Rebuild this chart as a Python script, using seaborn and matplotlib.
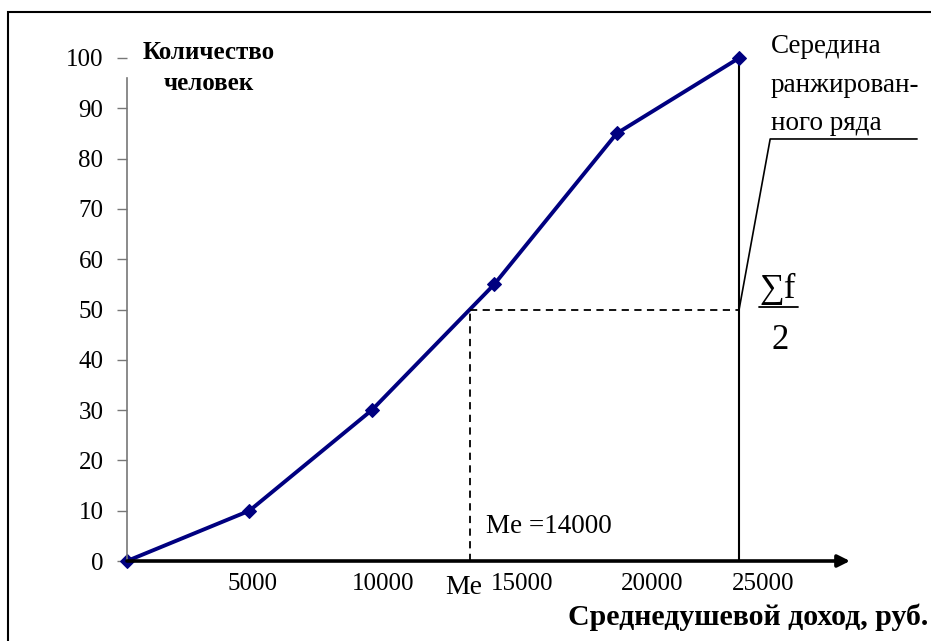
import pandas as pd
import seaborn as sns
from matplotlib import pyplot as plt
from matplotlib.patches import Rectangle
from matplotlib.transforms import ScaledTranslation

# cumulative frequency of income (cumulate)
income = [0, 5000, 10000, 15000, 20000, 25000]
people = [0, 10, 30, 55, 85, 100]
median = 14000
half_sum = 50
y_ticks = [0, 10, 20, 30, 40, 50, 60, 70, 80, 90, 100]
x_ticks = [5000, 10000, 15000, 20000, 25000]

df = pd.DataFrame({'income': income, 'people': people})

sns.set_style('white', {'text.color': 'black', 'xtick.color': 'black',
                        'ytick.color': 'black'})
plt.rcParams['font.family'] = ['Liberation Serif', 'DejaVu Serif']

fig = plt.figure(figsize=(9.31, 6.41), dpi=100)
W, H = 931, 641
ax = fig.add_axes([127 / W, 1 - 561 / H, (850 - 127) / W, (561 - 58) / H])

sns.lineplot(data=df, x='income', y='people', ax=ax, color='#000080', lw=2.8,
             marker='D', markersize=7, markeredgecolor='#000080', clip_on=False)

ax.set_xlim(0, 29530)
ax.set_ylim(0, 100)
ax.set_xlabel('')
ax.set_ylabel('')

# spines: thin grey y axis, thick x axis with arrow
for s in ['top', 'right', 'bottom']:
    ax.spines[s].set_visible(False)
ax.spines['left'].set_color('#777777')
ax.spines['left'].set_linewidth(1.2)
ax.spines['left'].set_bounds(0, 96)
ax.annotate('', xy=(1.0, 0), xytext=(0, 0), xycoords='axes fraction',
            arrowprops=dict(arrowstyle='-|>', color='black', lw=2.6,
                            mutation_scale=18, shrinkA=0, shrinkB=0))

ax.set_yticks(y_ticks)
ax.set_yticklabels([str(v) for v in y_ticks], fontsize=18)
ax.set_xticks(x_ticks)
ax.set_xticklabels([str(v) for v in x_ticks], fontsize=18)
ax.tick_params(axis='y', length=7, width=1, color='#777777', labelcolor='black',
               pad=10, left=True)
ax.tick_params(axis='x', length=0, pad=9)

# the labels under the axis were set by hand in the original, shifted right a bit
shifts = [3, 11, 28, 35, 24]
for lab, dx in zip(ax.get_xticklabels(), shifts):
    lab.set_transform(lab.get_transform() + ScaledTranslation(dx / 100, 0, fig.dpi_scale_trans))

# median construction lines
ax.plot([median, median], [0, half_sum], color='black', ls=(0, (4, 3)), lw=1.3)
ax.plot([median, income[-1]], [half_sum, half_sum], color='black', ls=(0, (4, 3)), lw=1.3)
ax.plot([income[-1], income[-1]], [0, people[-1]], color='black', lw=1.5, zorder=1)
ax.plot([income[-1], 26270, 32270], [half_sum, 83.9, 83.9], color='black', lw=1.2,
        clip_on=False)

ax.text(14650, 6.8, 'Me =14000', fontsize=19.5, va='center', ha='left')
ax.text(12990, -5.2, 'Me', fontsize=20, va='center', ha='left')

ax.text(25817, 50.6, '∑f', fontsize=25, va='bottom', ha='left')
ax.plot([25817, 27410], [50.5, 50.5], color='black', lw=1.3, clip_on=False)
ax.text(26675, 43.9, '2', fontsize=25, va='center', ha='center')

ax.text(26300, 94.6, 'Середина\nранжирован-\nного ряда', fontsize=19.5,
        va='center', ha='left', linespacing=1.72)

ax.text(3350, 103.4, 'Количество\nчеловек', fontsize=18, fontweight='bold',
        va='top', ha='center', multialignment='center', linespacing=1.45,
        bbox=dict(facecolor='white', edgecolor='none', pad=1))
fig.text(928 / W, 1 - 617 / H, 'Среднедушевой доход, руб.', fontsize=21.5,
         fontweight='bold', ha='right', va='center')

# outer frame of the picture
fig.add_artist(Rectangle((8 / W, -0.1), 1.2, 1.1 - 12 / H, transform=fig.transFigure,
                         fill=False, edgecolor='black', lw=1.5))

fig.savefig('out.png', dpi=100)
